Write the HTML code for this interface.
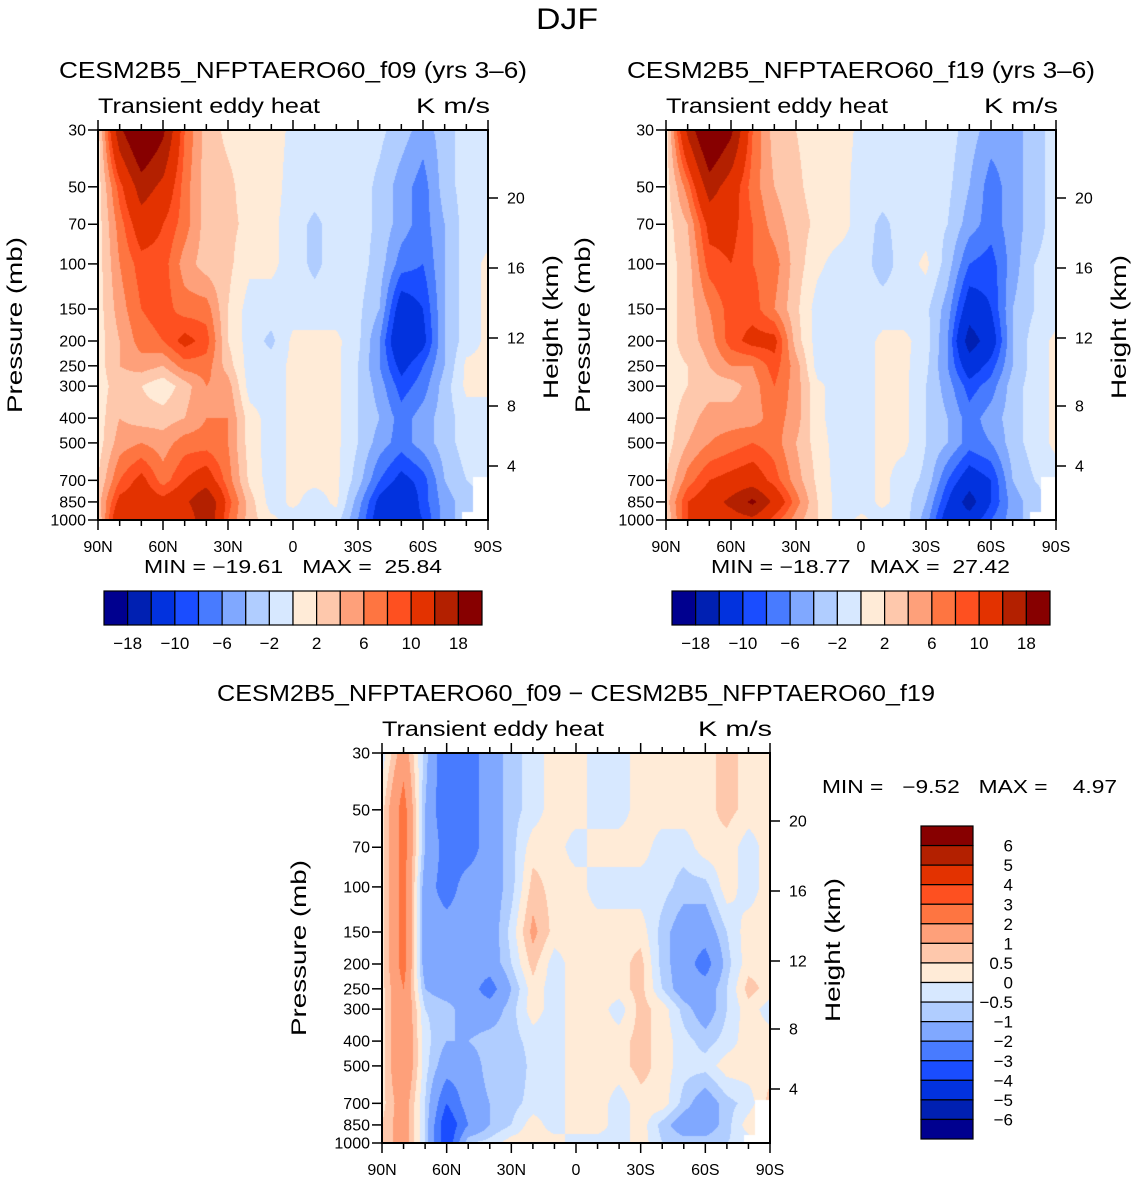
<!DOCTYPE html>
<html><head><meta charset="utf-8">
<style>
html,body{margin:0;padding:0;background:#fff;}
#root{position:relative;width:1135px;height:1181px;overflow:hidden;font-family:"Liberation Sans",sans-serif;}
canvas{position:absolute;}
svg{position:absolute;left:0;top:0;}
text{font-family:"Liberation Sans",sans-serif;fill:#000;white-space:pre;}
</style></head>
<body>
<div id="root">
<canvas id="c1" style="left:98px;top:130px" width="390" height="390"></canvas>
<canvas id="c2" style="left:666px;top:130px" width="390" height="390"></canvas>
<canvas id="c3" style="left:382px;top:753px" width="388" height="390"></canvas>
<svg id="s" width="1135" height="1181"></svg>
</div>
<script>
// ---- data ----
const lats = [90,80,70,60,50,40,30,20,10,0,-10,-20,-30,-40,-50,-60,-70,-80,-90];
const levels = [30,50,70,100,150,200,250,300,400,500,700,850,1000];
const f09 = [
[1,17,24,19,8,3,1.5,1,1,-0.5,-1,-1,-1,-1.5,-3,-5,-3,-1,-1],
[1,9,16,13,7,3,2.5,1,1,-1,-1,-1,-1,-2.5,-5,-7,-3,-1,-1],
[1,7,12,10,7,3,2.5,1.5,0.5,-1,-2.5,-1,-1,-2.5,-5,-7,-4,-1,-1],
[1,6,9,9,5,3,2.5,0.5,0.5,-1,-2.5,-1,-1,-3,-7,-8,-4,-1,0.5],
[1,5,8,9,7,7,2,-1,-1,-1,-1,-1,-1.5,-4,-12,-10,-4,-1,0.5],
[1,4,7,8,11,9,2,-1,-2.5,0.5,0.5,0.5,-1.5,-6,-14,-11,-4,-1,0.5],
[1,4,5,4,7,7,3,-1,-1,0.5,0.5,0.5,-2,-6,-11,-8,-4,0.5,0.5],
[1,3,2,0.5,3,6,5,-1,-1,0.5,0.5,0.5,-2,-5,-9,-7,-3,0.5,0.5],
[1,4,3,3,4,6,6,1,-1,0.5,0.5,0.5,-2,-4,-7,-5,-3,-1,-1],
[1,5,6,5,7,7,6,1,-1,0.5,0.5,0.5,-2,-5,-7,-5,-3,-1,-1],
[2,8,11,7,10,12,7,1.5,-1,0.5,0.5,0.5,-3,-8,-11,-9,-4,-2,-1],
[3,11,12,11,13,18,9,3,-1,0.5,-1,0.5,-5,-11,-14,-9,-5,-3,-2],
[2,14,10,14,10,18,8,3,0.5,-1,-1,-1,-6,-12,-12,-10,-5,-3,-2]];
const f19 = [
[1,15,24,19,8,3,2,1,1,-0.5,-1,-1,-1,-1,-3,-5,-5,-3,-1],
[1,7,16,12,7,4,2.5,1,1,-1,-1,-1,-1,-1.5,-4,-7,-5,-3,-1],
[1,4,11,11,8,5,3,1.5,1,-1,-2.5,-1,-1,-2,-5,-7,-5,-3,-1],
[1,3,9,10,8,7,3,0.5,-1,-1,-3,-1,0.5,-3,-8,-9,-5,-2,-1],
[1,3,6,9,9,6,2.5,-1,-1,-1,-1,-1,-1.5,-5,-12,-10,-4,-2,-1],
[1,3,5,9,11,11,3,-1,-1,-1,0.5,0.5,-1,-6,-16,-12,-4,-1,0.5],
[1,2,4,6,6,9,5,-1,-1,-1,0.5,0.5,-1.5,-6,-12,-9,-4,-1,0.5],
[1,2,3,3,5,8,5,0.5,-1,-1,0.5,0.5,-2,-5,-9,-7,-3,-1,0.5],
[1,3,5,5,5,7,5,0.5,-1,-1,0.5,0.5,-2,-4,-7,-5,-3,-1,0.5],
[1,4,6,7,8,7,4,1,-1,-1,0.5,0.5,-2,-4,-7,-6,-3,-1,0.5],
[2,7,10,11,12,9,5,1.5,-1,-1,0.5,-1,-2.5,-8,-12,-10,-4,-2,-1],
[3,10,12,15,19,13,7,2,-1,-1,0.5,-1,-4,-10,-16,-10,-5,-3,-1],
[2,10,14,12,13,9,5,2,-1,0.5,-1,-1,-5,-12,-12,-8,-5,-3,-1]];
const diff = [
[-0.3,1.5,-0.7,-3,-2.5,-1.5,-0.7,-0.3,0.3,0.3,-0.3,-0.3,0.3,0.3,0.3,0.3,0.7,0.3,0.3],
[0.3,2.5,-1,-3,-2.5,-1.5,-0.7,-0.3,0.3,0.3,-0.3,-0.3,0.3,0.3,0.3,0.3,0.7,0.3,0.3],
[0.3,2.5,-1,-2.5,-2.5,-1.5,-0.7,0.3,0.3,-0.3,0.3,0.3,0.3,-0.3,-0.3,0.3,0.3,-0.3,0.3],
[0.3,2.5,-1.5,-2.5,-1.5,-1.5,-0.7,0.7,0.3,0.3,-0.3,-0.3,-0.3,-0.3,-0.7,-0.7,0.3,-0.3,0.3],
[0.3,2.5,-1.5,-1.5,-1.5,-1.5,-0.3,1.2,0.3,0.3,0.3,0.3,0.3,-0.7,-1.5,-1.5,-0.5,0.3,0.3],
[0.3,2.5,-1.5,-1.5,-1.5,-1.5,-0.5,0.7,-0.3,0.3,0.3,0.3,0.7,-0.7,-1.5,-2.5,-0.7,0.3,0.3],
[0.3,2,-1,-1.5,-1.5,-2.5,-1,0.3,-0.3,0.3,0.3,0.3,0.7,-0.5,-1.5,-1.5,-0.5,0.7,0.3],
[0.3,2,-0.5,-0.7,-1.5,-1.5,-0.7,0.3,-0.3,0.3,0.3,-0.3,0.7,0.3,-0.7,-1.5,-0.5,0.3,-0.3],
[0.3,2,-0.3,-1,-1,-0.7,-0.7,-0.3,-0.3,0.3,0.3,0.3,0.7,0.3,-0.3,-0.7,-0.3,0.3,0.3],
[0.3,2,-0.3,-1.5,-1.5,-0.7,-1,-0.3,-0.3,0.3,0.3,0.3,0.7,0.3,-0.3,-0.3,0.3,0.3,0.3],
[0.3,1.5,-0.5,-3,-1.5,-1,-0.7,-0.3,-0.3,0.3,0.3,-0.3,0.3,0.3,-0.7,-1.5,-0.7,-0.3,0.7],
[0.5,1.5,-0.5,-4,-2,-1,-0.5,0.3,-0.3,0.3,0.3,-0.3,0.3,-0.7,-1.5,-1.5,-0.7,0.3,1],
[0.5,1.5,-0.5,-4,-0.5,-0.3,0.3,0.3,0.3,-0.3,-0.3,-0.3,0.3,-0.5,-0.7,-0.7,-0.5,-0.3,0.3]];
const contourLevelsA = [-18,-14,-10,-8,-6,-4,-2,0,2,4,6,8,10,14,18];
const contourLevelsB = [-6,-5,-4,-3,-2,-1,-0.5,0,0.5,1,2,3,4,5,6];
const labelsA = ["\u221218","\u221210","\u22126","\u22122","2","6","10","18"];
const labelsB = ["6","5","4","3","2","1","0.5","0","\u22120.5","\u22121","\u22122","\u22123","\u22124","\u22125","\u22126"];
const pTicks = [30,50,70,100,150,200,250,300,400,500,700,850,1000];
const zTicks = [4,8,12,16,20];
const zFrac = [54,114,182,252,322];
const latTicks = [90,60,30,0,-30,-60,-90];
const latNames = ["90N","60N","30N","0","30S","60S","90S"];
const palette = ["#00008f","#0020b2","#0232de","#1a4dff","#487bff","#80a8ff","#b0cdff","#d7e8ff","#ffebd7","#fec8ac","#fea07a","#fe7541","#fe5020","#e33200","#b32000","#870000"];
function hex(c){return [parseInt(c.substr(1,2),16),parseInt(c.substr(3,2),16),parseInt(c.substr(5,2),16)];}
const pal = palette.map(hex);
const LN = Math.log(1000/30);
function yOfP(p,top,H){return top+H-H*Math.log(1000/p)/LN;}
function xOfLat(lat,left,W){return left+W*(90-lat)/180;}
function bucket(v,lv){let k=0;while(k<lv.length&&v>=lv[k])k++;return k;}
function drawField(id,grid,lv,W,H){
  const cv=document.getElementById(id),ctx=cv.getContext('2d');
  const img=ctx.createImageData(W,H);
  const lgs=levels.map(p=>Math.log(1000/p));
  for(let y=0;y<H;y++){
    const lp=(H-y-0.5)/H*LN;
    const p=1000/Math.exp(lp);
    let r=0;while(r<levels.length-2&&lgs[r+1]>lp)r++;
    let t=(lgs[r]-lp)/(lgs[r]-lgs[r+1]);t=Math.max(0,Math.min(1,t));
    for(let x=0;x<W;x++){
      const lat=90-(x+0.5)/W*180;
      const cf=(90-lat)/10;let c=Math.min(17,Math.floor(cf));const u=cf-c;
      const v=(1-t)*((1-u)*grid[r][c]+u*grid[r][c+1])+t*((1-u)*grid[r+1][c]+u*grid[r+1][c+1]);
      const i=(y*W+x)*4;
      let col=pal[bucket(v,lv)];
      if((lat<-83&&p>680)||(lat<-78&&p>930))col=[255,255,255];
      img.data[i]=col[0];img.data[i+1]=col[1];img.data[i+2]=col[2];img.data[i+3]=255;
    }
  }
  ctx.putImageData(img,0,0);
}
drawField('c1',f09,contourLevelsA,390,390);
drawField('c2',f19,contourLevelsA,390,390);
drawField('c3',diff,contourLevelsB,388,390);

const svg=document.getElementById('s');const NS='http://www.w3.org/2000/svg';
function el(tag,attrs,txt){const e=document.createElementNS(NS,tag);for(const k in attrs)e.setAttribute(k,attrs[k]);if(txt!==undefined)e.textContent=txt;svg.appendChild(e);return e;}
function line(x1,y1,x2,y2,w){return el('line',{x1:x1,y1:y1,x2:x2,y2:y2,stroke:'#000','stroke-width':w||1.5});}

function axes(L,T,W,H,title,mm,titleLen,mmX,mmLen,mmY){
  const r=el('rect',{x:L,y:T,width:W,height:H,fill:'none',stroke:'#000','stroke-width':2});
  
  
  pTicks.forEach(p=>{const y=yOfP(p,T,H);line(L-10,y,L,y);
    const t=el('text',{x:L-12,y:y+5.5,'font-size':16,'text-anchor':'end'},String(p));
    
    });
  zTicks.forEach((z,i)=>{const y=T+H-H*zFrac[i]/390;line(L+W,y,L+W+10,y);
    const t=el('text',{x:L+W+19,y:y+5.5,'font-size':16},String(z));
    
    });
  for(let lat=90;lat>=-90;lat-=10){const x=xOfLat(lat,L,W);const mj=lat%30===0;
    line(x,T+H,x,T+H+(mj?10:6));line(x,T,x,T-(mj?10:6));}
  latTicks.forEach((lat,i)=>{const t=el('text',{x:xOfLat(lat,L,W),y:T+H+32,'font-size':16,'text-anchor':'middle'},latNames[i]);
    
    });
  const yl=el('text',{x:0,y:0,'font-size':21,'text-anchor':'middle',transform:`translate(${L-76},${T+195}) rotate(-90)`,textLength:176,lengthAdjust:'spacingAndGlyphs'},'Pressure (mb)');
  
  
  const yr=el('text',{x:0,y:0,'font-size':21,'text-anchor':'middle',transform:`translate(${L+W+70},${T+197}) rotate(-90)`,textLength:144,lengthAdjust:'spacingAndGlyphs'},'Height (km)');
  
  
  const ls=el('text',{x:L,y:T-17,'font-size':21,textLength:222,lengthAdjust:'spacingAndGlyphs'},'Transient eddy heat');
  
  
  const rs=el('text',{x:L+W+2,y:T-17,'font-size':21,'text-anchor':'end',textLength:74,lengthAdjust:'spacingAndGlyphs'},'K m/s');
  
  
  const tt=el('text',{x:L+W/2,y:T-52,'font-size':23,'text-anchor':'middle',textLength:titleLen,lengthAdjust:'spacingAndGlyphs'},title);
  
  
  const m=el('text',{x:mmX,y:mmY,'font-size':18,textLength:mmLen,lengthAdjust:'spacingAndGlyphs'},mm.replace(/ /g,'\u00a0'));
  
  
}
const dj=el('text',{x:567,y:29,'font-size':30,'text-anchor':'middle',textLength:62,lengthAdjust:'spacingAndGlyphs'},'DJF');


axes(98,130,390,390,'CESM2B5_NFPTAERO60_f09 (yrs 3\u20136)','MIN = \u221219.61   MAX =  25.84',468,144,298,573);
axes(666,130,390,390,'CESM2B5_NFPTAERO60_f19 (yrs 3\u20136)','MIN = \u221218.77   MAX =  27.42',468,711,299,573);
axes(382,753,388,390,'CESM2B5_NFPTAERO60_f09 \u2212 CESM2B5_NFPTAERO60_f19','MIN =   \u22129.52   MAX =    4.97',718,822,295,793);

function hbar(x0,y0,w,h){
  const bw=w/16;
  palette.forEach((c,i)=>{const r=el('rect',{x:x0+i*bw,y:y0,width:bw,height:h,fill:c,stroke:'#000','stroke-width':1.2});
    
    });
  labelsA.forEach((s,i)=>{const t=el('text',{x:x0+(2*i+1)*bw,y:y0+h+24,'font-size':17,'text-anchor':'middle'},s);
    
    });
}
hbar(104,591,378,34);
hbar(672,591,378,34);
(function(){const x0=921,y0=826,w=52,h=313,bh=h/16;
  palette.slice().reverse().forEach((c,i)=>{const r=el('rect',{x:x0,y:y0+i*bh,width:w,height:bh,fill:c,stroke:'#000','stroke-width':1.2});
    
    });
  labelsB.forEach((s,i)=>{const t=el('text',{x:1013,y:y0+(i+1)*bh+6,'font-size':17,'text-anchor':'end'},s);
    
    });
})();
</script>
</body></html>
